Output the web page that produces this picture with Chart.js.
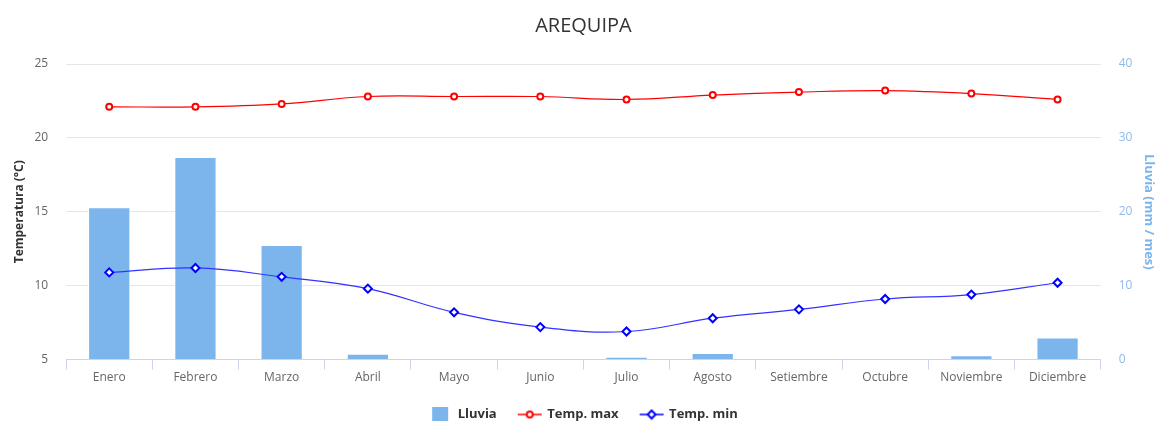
<!DOCTYPE html>
<html>
<head>
<meta charset="utf-8">
<script src="https://cdn.jsdelivr.net/npm/chart.js@4.4.1/dist/chart.umd.min.js"></script>
<style>
  html, body { margin: 0; padding: 0; background: #fff; }
  #wrap { width: 1155px; height: 421px; position: relative; }
</style>
</head>
<body>
<div id="wrap"><canvas id="c"></canvas></div>
<script>
// Monthly climate values for Arequipa
const months = ['Enero', 'Febrero', 'Marzo', 'Abril', 'Mayo', 'Junio', 'Julio', 'Agosto', 'Setiembre', 'Octubre', 'Noviembre', 'Diciembre'];
const lluvia = [20.6, 27.4, 15.5, 0.8, 0, 0, 0.4, 0.9, 0, 0, 0.6, 3.0];
const tempMax = [22.1, 22.1, 22.3, 22.8, 22.8, 22.8, 22.6, 22.9, 23.1, 23.2, 23.0, 22.6];
const tempMin = [10.9, 11.2, 10.6, 9.8, 8.2, 7.2, 6.9, 7.8, 8.4, 9.1, 9.4, 10.2];

const FONT = '"Open Sans", "DejaVu Sans", sans-serif';
const BAR = '#7cb5ec';
const ORDER = ['Lluvia', 'Temp. max', 'Temp. min'];

// Legend symbols: a line segment with the series marker on it
function lineSymbol(color, shape) {
  const c = document.createElement('canvas');
  c.width = 26; c.height = 12;
  const g = c.getContext('2d');
  g.strokeStyle = color; g.lineWidth = 1.5;
  g.beginPath(); g.moveTo(1, 6); g.lineTo(25, 6); g.stroke();
  g.fillStyle = '#fff'; g.lineWidth = 2;
  g.beginPath();
  if (shape === 'circle') {
    g.arc(13, 6, 3, 0, Math.PI * 2);
  } else {
    g.moveTo(13, 2); g.lineTo(17, 6); g.lineTo(13, 10); g.lineTo(9, 6); g.closePath();
  }
  g.fill(); g.stroke();
  return c;
}
function boxSymbol(color) {
  const c = document.createElement('canvas');
  c.width = 18; c.height = 15;
  const g = c.getContext('2d');
  g.fillStyle = color; g.fillRect(1, 0, 16, 15);
  return c;
}

new Chart(document.getElementById('c'), {
  data: {
    labels: months,
    datasets: [
      {
        type: 'line', label: 'Temp. max', data: tempMax, yAxisID: 'yT',
        borderColor: '#ff0000', borderWidth: 1.2, tension: 0.4,
        pointStyle: 'circle', pointRadius: 3, pointBorderWidth: 2,
        pointBackgroundColor: '#fff', pointBorderColor: '#ff0000', order: 1
      },
      {
        type: 'line', label: 'Temp. min', data: tempMin, yAxisID: 'yT',
        borderColor: '#3333ff', borderWidth: 1.2, tension: 0.4,
        pointStyle: 'rectRot', pointRadius: 4, pointBorderWidth: 2,
        pointBackgroundColor: '#fff', pointBorderColor: '#0000ff', order: 2
      },
      {
        type: 'bar', label: 'Lluvia', data: lluvia, yAxisID: 'yR',
        backgroundColor: BAR, borderColor: '#ffffff', borderWidth: 1,
        categoryPercentage: 1, barPercentage: 0.49, order: 3
      }
    ]
  },
  options: {
    responsive: true, maintainAspectRatio: false, animation: false,
    layout: { padding: { left: 0, right: -2, top: 4, bottom: -10 } },
    plugins: {
      title: {
        display: true, fullSize: false, text: 'AREQUIPA', color: '#333333',
        font: { family: FONT, size: 20, weight: 'normal' },
        padding: { top: 10, bottom: 26 }
      },
      tooltip: { enabled: false },
      legend: {
        position: 'bottom', fullSize: false,
        labels: {
          usePointStyle: true, pointStyleWidth: 22, boxHeight: 13,
          color: '#333333', padding: 22,
          font: { family: FONT, size: 13, weight: 'bold' },
          sort: (a, b) => ORDER.indexOf(a.text) - ORDER.indexOf(b.text),
          generateLabels(chart) {
            return chart.data.datasets.map((ds, i) => ({
              text: ds.label, datasetIndex: i, hidden: false,
              fontColor: '#333333', lineWidth: 0,
              pointStyle: ds.type === 'bar' ? boxSymbol(BAR)
                : lineSymbol(ds.borderColor === '#ff0000' ? '#ff0000' : '#0000ff', ds.pointStyle === 'circle' ? 'circle' : 'diamond')
            }));
          }
        }
      }
    },
    scales: {
      x: {
        offset: true,
        grid: { offset: true, drawOnChartArea: false, drawTicks: true, tickLength: 10, color: '#ccd6eb' },
        border: { color: '#ccd6eb' },
        ticks: { color: '#666666', font: { family: FONT, size: 12 }, padding: 1 }
      },
      yT: {
        position: 'left', min: 5, max: 25,
        ticks: { stepSize: 5, color: '#666666', font: { family: FONT, size: 12 }, padding: 18 },
        grid: { color: '#e6e6e6', drawTicks: false },
        border: { display: false },
        title: {
          display: true, text: 'Temperatura (°C)', color: '#333333',
          font: { family: FONT, size: 12, weight: 'bold' }, padding: { top: 12, bottom: 8 }
        },
        afterFit(scale) { scale.width -= 18; }
      },
      yR: {
        position: 'right', min: 0, max: 40,
        ticks: { stepSize: 10, color: '#8fbbea', font: { family: FONT, size: 12 }, padding: 18 },
        grid: { drawOnChartArea: false, drawTicks: false },
        border: { display: false },
        title: {
          display: true, text: 'Lluvia (mm / mes)', color: '#7cb5ec',
          font: { family: FONT, size: 13, weight: 'bold' }, padding: { top: 0, bottom: 10 }
        },
        afterFit(scale) { scale.width -= 19; }
      }
    }
  }
});
</script>
</body>
</html>
